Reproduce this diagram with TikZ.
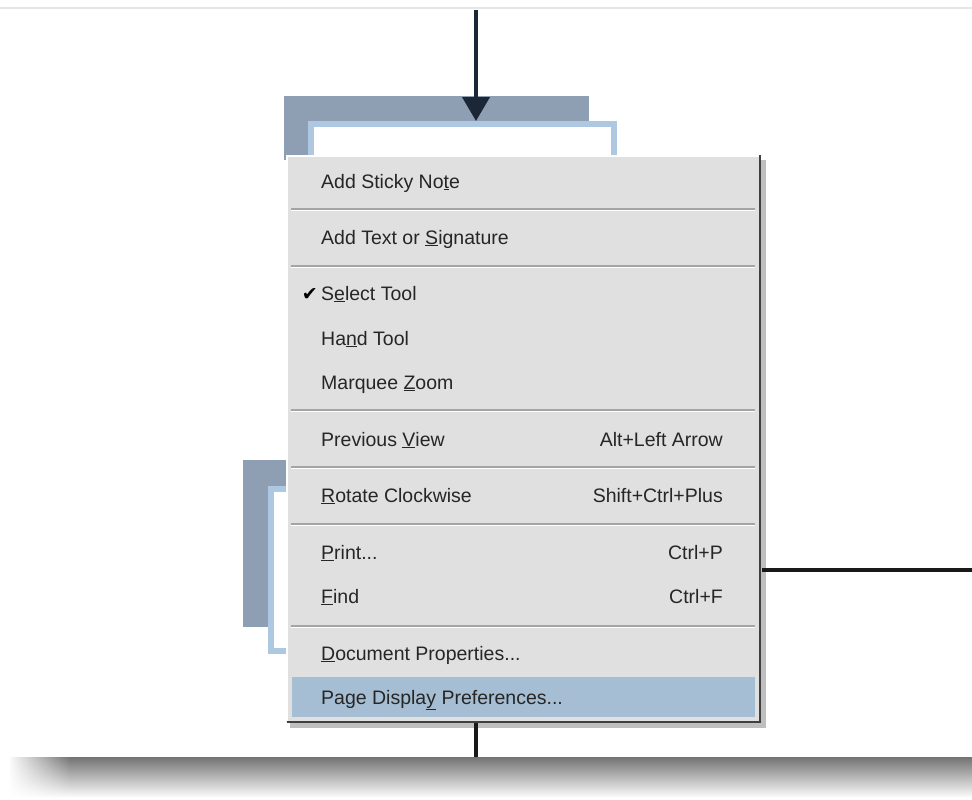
\documentclass[tikz,border=0pt]{standalone}
\usepackage{fontspec}
\setmainfont{Liberation Sans}
\newfontfamily\symfont{DejaVu Sans}
\usetikzlibrary{positioning, arrows.meta, fadings}
\definecolor{boxgray}{HTML}{8F9FB3}
\definecolor{boxedge}{HTML}{AFC8E2}
\definecolor{menubg}{HTML}{E0E0E0}
\definecolor{menusel}{HTML}{A6BED3}
\definecolor{sepgray}{HTML}{A4A4A4}
\definecolor{arrowink}{HTML}{1B2636}
\newcommand\Ul[1]{\underline{#1}}

\begin{document}
\begin{tikzpicture}[x=1pt, y=-1pt,
    menuitem/.style={anchor=base west, inner sep=0pt, font=\fontsize{19.5}{20}\selectfont, text=black!85},
    shortcut/.style={anchor=base east, inner sep=0pt, font=\fontsize{19.5}{20}\selectfont, text=black!85},
    sepline/.style={draw=sepgray, line width=1.3pt},
    link/.style={draw=black!90, line width=3.5pt}]
  \useasboundingbox (0,0) rectangle (972,800);
  \fill[white] (0,0) rectangle (972,800);
  \draw[gray!20, line width=1.5pt] (0,8) -- (972,8);

  % page boxes behind the menu
  \fill[boxgray] (284,96) rectangle (589,160);
  \node[anchor=north west, fill=boxedge, inner sep=0pt, minimum width=309pt, minimum height=40pt] (page1) at (308,121) {};
  \fill[white] (314,127) rectangle (611,160);
  \fill[boxgray] (243,460) rectangle (292,627);
  \node[anchor=north west, fill=boxedge, inner sep=0pt, minimum width=24pt, minimum height=168pt] (page2) at (268,486) {};
  \fill[white] (274,492) rectangle (292,648);

  % floor shadow
  \shade[top color=black!55, bottom color=white] (10,757) rectangle (972,798);
  \fill[white, path fading=east] (8,755) rectangle (70,800);

  % context menu
  \fill[black!25] (290,160) rectangle (766,728);
  \node[anchor=north west, fill=menubg, inner sep=0pt, minimum width=474pt, minimum height=567pt] (menu) at (286,155) {};
  \draw[white, line width=1.5pt] (287,721) -- (287,156) -- (759,156);
  \draw[black!75, line width=2.5pt] (760,155) -- (760,722) -- (287,722);
  \fill[menusel] (292,677) rectangle (755,717);
  \foreach \y in {209,266,410,467,524,626} {
    \draw[sepline] (291,\y) -- (755,\y);
    \draw[white, line width=1pt] (291,\y+1.5) -- (755,\y+1.5);
  }

  \foreach \y/\txt [count=\i] in {188/{Add Sticky No\Ul{t}e}, 244/{Add Text or \Ul{S}ignature},
      300/{S\Ul{e}lect Tool}, 345/{Ha\Ul{n}d Tool}, 389/{Marquee \Ul{Z}oom},
      446/{Previous \Ul{V}iew}, 502/{\Ul{R}otate Clockwise}, 559/{\Ul{P}rint...},
      603/{\Ul{F}ind}, 660/{\Ul{D}ocument Properties...}, 704/{Page Displa\Ul{y} Preferences...}}
    \node[menuitem] (item\i) at (321,\y) {\txt};
  \node[anchor=base east, inner sep=0pt, font=\symfont\fontsize{19}{20}\selectfont] (tick) at (318,300) {✔};
  \node[shortcut] (key6) at (723,446) {Alt+Left Arrow};
  \node[shortcut] (key7) at (723,502) {Shift+Ctrl+Plus};
  \node[shortcut] (key8) at (723,559) {Ctrl+P};
  \node[shortcut] (key9) at (723,603) {Ctrl+F};

  % connectors
  \coordinate (topin) at (476,10);
  \coordinate (rightout) at (972,570);
  \coordinate (floorin) at (476,757);
  \draw[draw=arrowink, line width=4pt, -{Triangle[length=24pt, width=27pt]}] (topin) -- (page1.north -| topin);
  \draw[link] (menu.east |- rightout) ++(1.5,0) -- (rightout);
  \draw[link] (menu.south -| floorin) ++(0,1) -- (floorin);
\end{tikzpicture}
\end{document}
